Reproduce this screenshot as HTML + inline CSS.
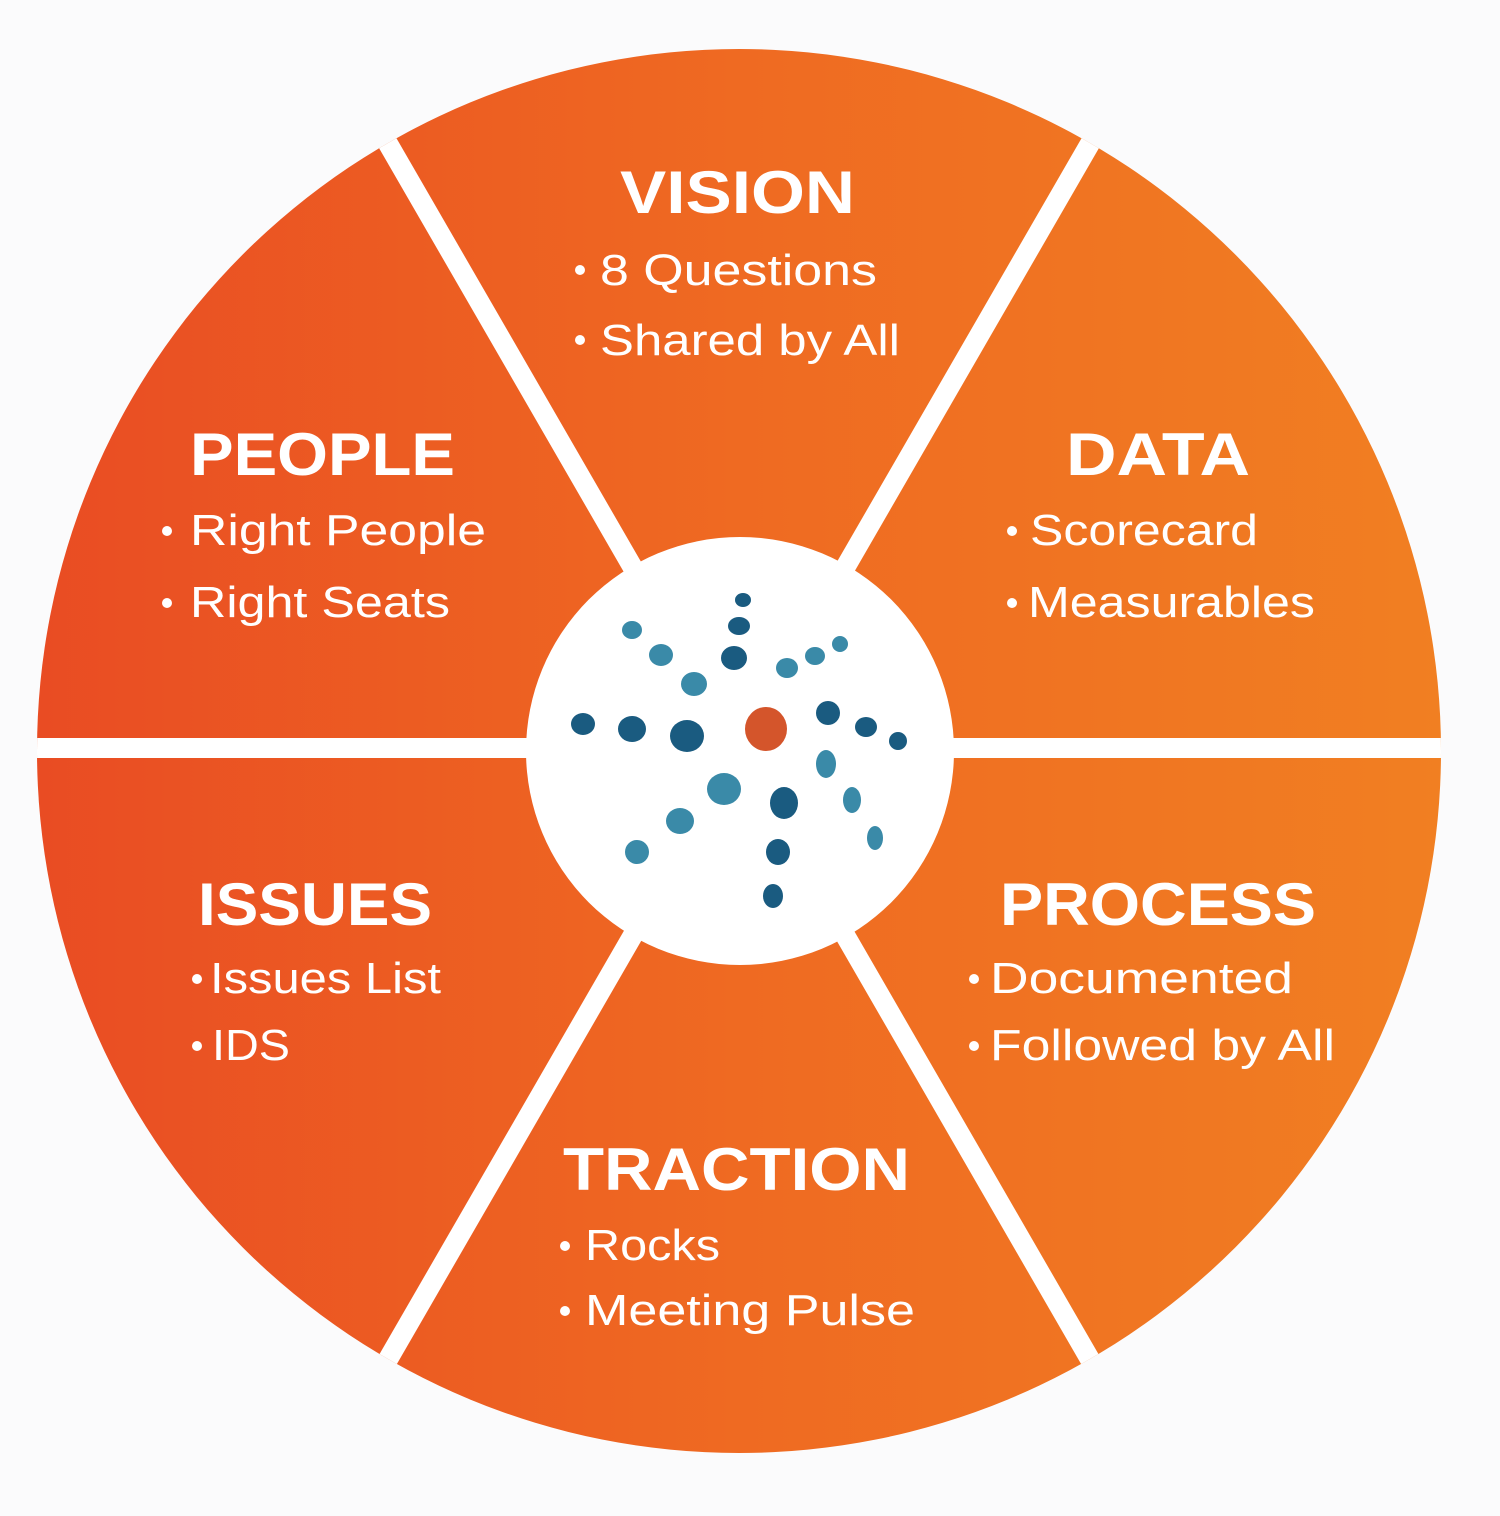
<!DOCTYPE html>
<html><head><meta charset="utf-8"><style>
html,body{margin:0;padding:0;background:#fff;}
svg{display:block;}
text{font-family:"Liberation Sans",sans-serif;fill:#fff;}
.h{font-weight:bold;font-size:60px;}
.b{font-size:44px;}
</style></head><body>
<svg width="1500" height="1516" viewBox="0 0 1500 1516" xmlns="http://www.w3.org/2000/svg">
<defs>
<linearGradient id="g" x1="0" y1="0" x2="1" y2="0">
<stop offset="0" stop-color="#e94c23"/>
<stop offset="0.5" stop-color="#ef6a22"/>
<stop offset="1" stop-color="#f17f22"/>
</linearGradient>
<clipPath id="c"><circle cx="739" cy="751" r="702"/></clipPath>
</defs>
<rect width="1500" height="1516" fill="#fbfbfc"/>
<circle cx="739" cy="751" r="702" fill="url(#g)"/>
<g stroke="#fff" stroke-width="20" clip-path="url(#c)">
<line x1="20" y1="748" x2="1460" y2="748"/>
<line x1="379" y1="128" x2="1099" y2="1375"/>
<line x1="1099" y1="128" x2="379" y2="1375"/>
</g>
<circle cx="740" cy="751" r="214" fill="#fff"/>
<g>
<ellipse cx="743" cy="600" rx="8" ry="7" fill="#1a5b80"/>
<ellipse cx="739" cy="626" rx="11" ry="9" fill="#1a5b80"/>
<ellipse cx="734" cy="658" rx="13" ry="12" fill="#1a5b80"/>
<ellipse cx="632" cy="630" rx="10" ry="9" fill="#3a8aa8"/>
<ellipse cx="661" cy="655" rx="12" ry="11" fill="#3a8aa8"/>
<ellipse cx="694" cy="684" rx="13" ry="12" fill="#3a8aa8"/>
<ellipse cx="583" cy="724" rx="12" ry="11" fill="#1a5b80"/>
<ellipse cx="632" cy="729" rx="14" ry="13" fill="#1a5b80"/>
<ellipse cx="687" cy="736" rx="17" ry="16" fill="#1a5b80"/>
<ellipse cx="787" cy="668" rx="11" ry="10" fill="#3a8aa8"/>
<ellipse cx="815" cy="656" rx="10" ry="9" fill="#3a8aa8"/>
<ellipse cx="840" cy="644" rx="8" ry="8" fill="#3a8aa8"/>
<ellipse cx="828" cy="713" rx="12" ry="12" fill="#1a5b80"/>
<ellipse cx="866" cy="727" rx="11" ry="10" fill="#1a5b80"/>
<ellipse cx="898" cy="741" rx="9" ry="9" fill="#1a5b80"/>
<ellipse cx="826" cy="764" rx="10" ry="14" fill="#3a8aa8"/>
<ellipse cx="852" cy="800" rx="9" ry="13" fill="#3a8aa8"/>
<ellipse cx="875" cy="838" rx="8" ry="12" fill="#3a8aa8"/>
<ellipse cx="724" cy="789" rx="17" ry="16" fill="#3a8aa8"/>
<ellipse cx="680" cy="821" rx="14" ry="13" fill="#3a8aa8"/>
<ellipse cx="637" cy="852" rx="12" ry="12" fill="#3a8aa8"/>
<ellipse cx="784" cy="803" rx="14" ry="16" fill="#1a5b80"/>
<ellipse cx="778" cy="852" rx="12" ry="13" fill="#1a5b80"/>
<ellipse cx="773" cy="896" rx="10" ry="12" fill="#1a5b80"/>
<ellipse cx="766" cy="729" rx="21" ry="22" fill="#d4552b"/>
</g>
<g fill="#fff">
<circle cx="580" cy="270" r="5"/><circle cx="580" cy="340" r="5"/>
<circle cx="167" cy="531" r="5"/><circle cx="167" cy="603" r="5"/>
<circle cx="1012" cy="531" r="5"/><circle cx="1012" cy="603" r="5"/>
<circle cx="197" cy="979" r="5"/><circle cx="197" cy="1046" r="5"/>
<circle cx="974" cy="979" r="5"/><circle cx="974" cy="1046" r="5"/>
<circle cx="565" cy="1246" r="5"/><circle cx="565" cy="1311" r="5"/>
</g>
<text class="h" x="620" y="213" textLength="235" lengthAdjust="spacingAndGlyphs">VISION</text>
<text class="b" x="600" y="285" textLength="277" lengthAdjust="spacingAndGlyphs">8 Questions</text>
<text class="b" x="600" y="355" textLength="300" lengthAdjust="spacingAndGlyphs">Shared by All</text>
<text class="h" x="190" y="475" textLength="265" lengthAdjust="spacingAndGlyphs">PEOPLE</text>
<text class="b" x="190" y="545" textLength="296" lengthAdjust="spacingAndGlyphs">Right People</text>
<text class="b" x="190" y="617" textLength="260" lengthAdjust="spacingAndGlyphs">Right Seats</text>
<text class="h" x="1066" y="475" textLength="184" lengthAdjust="spacingAndGlyphs">DATA</text>
<text class="b" x="1030" y="545" textLength="228" lengthAdjust="spacingAndGlyphs">Scorecard</text>
<text class="b" x="1028" y="617" textLength="287" lengthAdjust="spacingAndGlyphs">Measurables</text>
<text class="h" x="198" y="925" textLength="234" lengthAdjust="spacingAndGlyphs">ISSUES</text>
<text class="b" x="210" y="993" textLength="231" lengthAdjust="spacingAndGlyphs">Issues List</text>
<text class="b" x="212" y="1060" textLength="78" lengthAdjust="spacingAndGlyphs">IDS</text>
<text class="h" x="1000" y="925" textLength="316" lengthAdjust="spacingAndGlyphs">PROCESS</text>
<text class="b" x="990" y="993" textLength="303" lengthAdjust="spacingAndGlyphs">Documented</text>
<text class="b" x="990" y="1060" textLength="345" lengthAdjust="spacingAndGlyphs">Followed by All</text>
<text class="h" x="563" y="1190" textLength="347" lengthAdjust="spacingAndGlyphs">TRACTION</text>
<text class="b" x="585" y="1260" textLength="135" lengthAdjust="spacingAndGlyphs">Rocks</text>
<text class="b" x="585" y="1325" textLength="330" lengthAdjust="spacingAndGlyphs">Meeting Pulse</text>
</svg>
</body></html>
